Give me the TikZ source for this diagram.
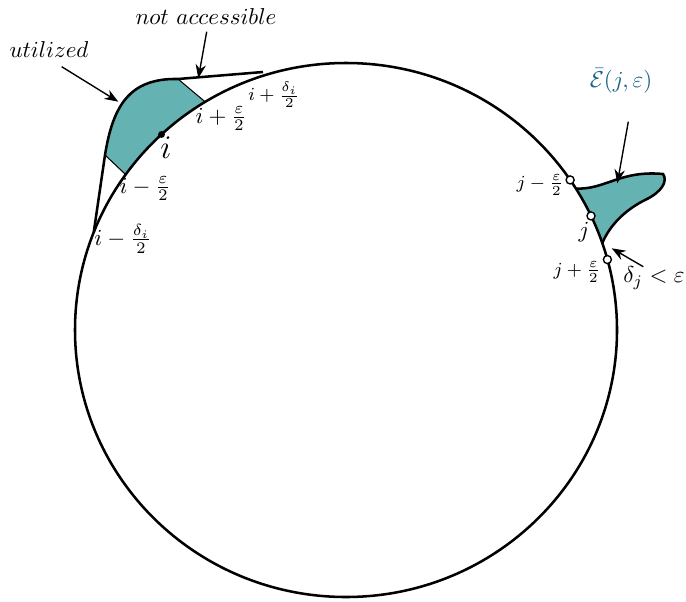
\documentclass[tikz,border=0pt]{standalone}
\usepackage{amsmath,amssymb}
\usetikzlibrary{arrows.meta}
\definecolor{tealfill}{RGB}{100,178,178}
\definecolor{labelblue}{RGB}{25,100,135}
\begin{document}
\begin{tikzpicture}[x=0.435pt,y=0.435pt,
  thickline/.style={line width=1.1pt},
  thinline/.style={line width=0.45pt},
  arr/.style={-{Stealth[length=6pt,width=4.5pt]},line width=0.6pt},
  lbl/.style={inner sep=0pt},
  opendot/.style={circle,draw,fill=white,line width=0.6pt,inner sep=0pt,minimum size=3.5pt},
  filldot/.style={circle,fill=black,inner sep=0pt,minimum size=3pt}]
\useasboundingbox (0,0) rectangle (686,601);
\coordinate (O) at (346,271);
% points on the circle
\coordinate (A1) at ([shift={(O)}]158.6:271 and 267);
\coordinate (A2) at ([shift={(O)}]144.4:271 and 267);
\coordinate (I)  at ([shift={(O)}]132.9:271 and 267);
\coordinate (A3) at ([shift={(O)}]121.3:271 and 267);
\coordinate (Jt) at ([shift={(O)}]32:271 and 267);
\coordinate (Jb) at ([shift={(O)}]19:271 and 267);
\coordinate (J1) at ([shift={(O)}]34.2:271 and 267);
\coordinate (J)  at ([shift={(O)}]25.3:271 and 267);
\coordinate (J2) at ([shift={(O)}]15.3:271 and 267);
% outer curve points
\coordinate (P1) at (105,446);
\coordinate (P2) at (178,522);
\coordinate (E)  at (263,529);
\coordinate (Jr) at (663,427);
\coordinate (Jm) at (645,401);
% teal regions
\fill[tealfill] (P1) .. controls (113,496) and (130,523) .. (P2) -- (A3)
  arc[start angle=121.3, end angle=144.4, x radius=271, y radius=267] -- cycle;
\fill[tealfill] (Jt) .. controls (605,411) and (620,431) .. (Jr)
  .. controls (668,420) and (662,409) .. (Jm)
  .. controls (625,391) and (610,376) .. (Jb)
  arc[start angle=19, end angle=32, x radius=271, y radius=267] -- cycle;
\draw[thinline] (P2) -- (A3);
\draw[thinline] (P1) -- (A2);
% circle
\draw[thickline] (O) ellipse [x radius=271, y radius=267];
% outer boundaries
\draw[thickline] (A1) -- (P1) .. controls (113,496) and (130,523) .. (P2) -- (E);
\draw[thickline] (Jt) .. controls (605,411) and (620,431) .. (Jr)
  .. controls (668,420) and (662,409) .. (Jm)
  .. controls (625,391) and (610,376) .. (Jb);
% dots
\node[filldot] (dI) at (I) {};
\node[opendot] (dJ1) at (J1) {};
\node[opendot] (dJ) at (J) {};
\node[opendot] (dJ2) at (J2) {};
% labels
\node[lbl] (utl) at (49,551) {$utilized$};
\node[lbl] (nacc) at (206,584) {$not\ accessible$};
\node[lbl] (lA4) at (274,506) {\footnotesize $i+\frac{\delta_i}{2}$};
\node[lbl] (lA3) at (221,482) {$i+\frac{\varepsilon}{2}$};
\node[lbl] (lI) at (166,453) {\Large $i$};
\node[lbl] (lA2) at (145,412) {$i-\frac{\varepsilon}{2}$};
\node[lbl] (lA1) at (123,362) {$i-\frac{\delta_i}{2}$};
\node[lbl] (lJ1) at (540,416) {\footnotesize $j-\frac{\varepsilon}{2}$};
\node[lbl] (lJ) at (584,369) {$j$};
\node[lbl] (lJ2) at (577,329) {\footnotesize $j+\frac{\varepsilon}{2}$};
\node[lbl,anchor=east] (ldel) at (685,323) {$\delta_j<\varepsilon$};
\node[lbl,text=labelblue] (lE) at (621,520) {$\bar{\mathcal{E}}(j,\varepsilon)$};
% arrows
\coordinate (uS) at (61.7,534.3);
\coordinate (uT) at (118.3,499.3);
\coordinate (nS) at (206.7,569.3);
\coordinate (nT) at (198.3,522.7);
\coordinate (dS) at (643.3,334.3);
\coordinate (dT) at (611.7,352.7);
\coordinate (eS) at (628.3,479.3);
\coordinate (eT) at (617.3,417.7);
\draw[arr] (uS) -- (uT);
\draw[arr] (nS) -- (nT);
\draw[arr] (dS) -- (dT);
\draw[arr] (eS) -- (eT);
\end{tikzpicture}
\end{document}
